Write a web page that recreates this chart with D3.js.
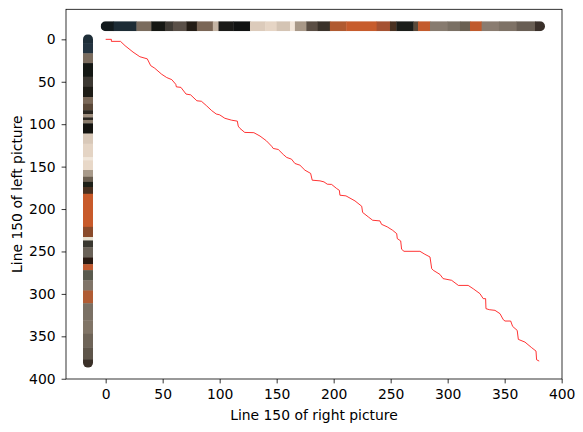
<!DOCTYPE html>
<html>
<head>
<meta charset="utf-8">
<script src="https://cdn.jsdelivr.net/npm/d3@7"></script>
<style>
  body { margin: 0; background: #fff; }
  svg { display: block; }
</style>
</head>
<body>
<div class="chart"></div>
<script>
// warping path (right picture x, left picture y)
const pathX = [0, 5, 5, 13, 17, 24, 30, 36.5, 39.5, 43, 49, 53.5, 58, 61.5, 62, 66, 70.5, 74.5, 80, 84, 88.5, 93, 97, 100, 104.5, 110.5,
  115.5, 116.3, 117.8, 122, 130, 135.4, 141, 145.6, 147, 151.4, 155.8, 158.8, 163, 166, 170.4, 174.8, 179.8, 181.2, 188, 191.5, 194.4, 198.2, 202.6, 205, 205.5,
  210.8, 218.7, 224.6, 225.4, 230.4, 234.2, 240.6, 242, 247, 251.7, 255.3, 255.8, 258.8, 259.6, 261.7, 275.7, 280, 284.5, 286, 287.4, 293.2, 296,
  303.5, 309.4, 318, 322.5, 328.3, 331.2, 333.3, 333.6, 336.5, 341.5, 345.9, 348.8, 350.3, 355.3, 357, 361, 362, 367.8, 373.7, 377.5, 378, 380.3];
const pathY = [0, 0, 2.4, 2.4, 7.5, 15, 20.5, 23, 31, 34, 41, 45, 47.5, 53, 56, 56.6, 64.5, 65.4, 72.4, 73, 78.3, 84, 88, 89, 93, 95.3,
  96.4, 102.3, 105, 109.7, 110, 114, 119.6, 126, 128.6, 129.8, 135.7, 139.2, 141.2, 146.3, 148.3, 154.2, 158, 166, 166.8, 168, 170.7, 171, 175.8, 178, 183.7,
  184.5, 190.4, 196.7, 204, 209.3, 213.2, 214, 218, 221, 225, 229, 234.8, 237.6, 247.4, 249.8, 249.8, 253.3, 256.5, 270.2, 272.2, 277, 282,
  284, 290, 290, 294, 299.7, 305.6, 305.6, 317.4, 318.6, 319.4, 323.3, 330.4, 332, 332, 338.3, 343, 353.6, 356.8, 363.4, 367.4, 377.6, 379.2];

// line 150 of the right picture (drawn along the top), band starts and colours
const rightPos = [0, 7, 27, 40, 52, 59, 71, 80, 94, 99, 112, 126.6, 140, 150, 161.7, 166, 176, 186, 196.7, 211, 237.7, 249.4, 255, 270, 274,
  284.5, 300, 310.8, 319.6, 329.8, 345, 360.5, 376.6];
const rightColors = ["#121a1c", "#1d2c35", "#7a6c5e", "#151713", "#3e3a34", "#5a5048", "#231c15", "#7a6656", "#c4b4a4", "#1a1a18", "#101212",
  "#dccbbb", "#e6d5c5", "#d4c4b4", "#f2e6da", "#a89888", "#5a4e44", "#3a322a", "#b05a30", "#c75c2c", "#a55232", "#4a3222", "#1c1e1a", "#5a4a3a",
  "#c35b2d", "#877b6f", "#7a7064", "#6a6052", "#c05a2c", "#8a7c70", "#7e7266", "#685e54", "#3a302a"];

// line 150 of the left picture (drawn down the left side)
const leftPos = [0, 4.4, 16.5, 28, 44, 56, 68, 76, 83.5, 88, 92, 95, 99, 111, 123, 139, 142.5, 154, 162, 168, 174, 182, 221, 233, 237, 245,
  257, 265, 272, 284, 296, 311, 331, 347, 363, 377];
const leftColors = ["#1e2e38", "#243440", "#7a6c5e", "#141814", "#3c3832", "#1e1c16", "#7a6858", "#5a4838", "#2a2620", "#a09080", "#2a2620",
  "#8a7c6c", "#141410", "#d8c8b8", "#e4d4c4", "#f0e6da", "#e8d8c8", "#a89a8a", "#6a5e50", "#1e2018", "#4a3020", "#c85a2a", "#8a4a2a", "#e8e0d0",
  "#3a3830", "#6a6258", "#2a1a12", "#c05a30", "#5a5a4e", "#807468", "#b05c34", "#7a7064", "#807466", "#6e6458", "#5e554a", "#3a3028"];

const stripEnd = 381;
const stripOffset = -15.5;
const xTicks = d3.range(0, 401, 50);
const yTicks = d3.range(0, 401, 50);

const width = 583, height = 432;
const margin = { left: 66, right: 562, top: 9.3, bottom: 379 };
const fontSize = "13.9px";

const svg = d3.select(".chart")
  .append("svg")
  .attr("width", width)
  .attr("height", height)
  .style("font-family", "'DejaVu Sans', sans-serif");

const x = d3.scaleLinear().domain([-34.8, 400.3]).range([margin.left, margin.right]);
const y = d3.scaleLinear().domain([-35.4, 400.3]).range([margin.top, margin.bottom]);

const cap = 5;

const defs = svg.append("defs");
defs.append("clipPath").attr("id", "clip-top")
  .append("rect")
  .attr("x", x(0) - cap)
  .attr("y", y(stripOffset) - cap)
  .attr("width", x(stripEnd) - x(0) + 2 * cap)
  .attr("height", 2 * cap)
  .attr("rx", cap);

defs.append("clipPath").attr("id", "clip-left")
  .append("rect")
  .attr("x", x(stripOffset) - cap)
  .attr("y", y(0) - cap)
  .attr("width", 2 * cap)
  .attr("height", y(stripEnd) - y(0) + 2 * cap)
  .attr("ry", cap);

// top strip
const topBands = rightPos.map((p, i) => ({
  start: i === 0 ? x(0) - cap : x(p),
  end: i === rightPos.length - 1 ? x(stripEnd) + cap : x(rightPos[i + 1]),
  color: rightColors[i]
}));

svg.append("g")
  .attr("clip-path", "url(#clip-top)")
  .selectAll("rect")
  .data(topBands)
  .join("rect")
  .attr("x", d => d.start)
  .attr("y", y(stripOffset) - cap)
  .attr("width", d => d.end - d.start + 0.4)
  .attr("height", 2 * cap)
  .attr("fill", d => d.color);

// left strip
const leftBands = leftPos.map((p, i) => ({
  start: i === 0 ? y(0) - cap : y(p),
  end: i === leftPos.length - 1 ? y(stripEnd) + cap : y(leftPos[i + 1]),
  color: leftColors[i]
}));

svg.append("g")
  .attr("clip-path", "url(#clip-left)")
  .selectAll("rect")
  .data(leftBands)
  .join("rect")
  .attr("x", x(stripOffset) - cap)
  .attr("y", d => d.start)
  .attr("width", 2 * cap)
  .attr("height", d => d.end - d.start + 0.4)
  .attr("fill", d => d.color);

// warping path
const line = d3.line()
  .x(d => x(d[0]))
  .y(d => y(d[1]));

svg.append("path")
  .datum(pathX.map((v, i) => [v, pathY[i]]))
  .attr("d", line)
  .attr("fill", "none")
  .attr("stroke", "#ff0000")
  .attr("stroke-width", 0.8);

// axes
const xAxis = svg.append("g")
  .attr("transform", `translate(0, ${margin.bottom})`)
  .call(d3.axisBottom(x).tickValues(xTicks).tickSize(4.4).tickPadding(6));

const yAxis = svg.append("g")
  .attr("transform", `translate(${margin.left}, 0)`)
  .call(d3.axisLeft(y).tickValues(yTicks).tickSize(4.4).tickPadding(6));

[xAxis, yAxis].forEach(g => {
  g.select(".domain").remove();
  g.selectAll("text")
    .style("font-family", "'DejaVu Sans', sans-serif")
    .style("font-size", fontSize)
    .attr("fill", "#000");
  g.selectAll("line").attr("stroke", "#000").attr("stroke-width", 0.8);
});

svg.append("rect")
  .attr("x", margin.left)
  .attr("y", margin.top)
  .attr("width", margin.right - margin.left)
  .attr("height", margin.bottom - margin.top)
  .attr("fill", "none")
  .attr("stroke", "#000")
  .attr("stroke-width", 0.8);

svg.append("text")
  .text("Line 150 of right picture")
  .attr("x", (margin.left + margin.right) / 2)
  .attr("y", 419.5)
  .attr("text-anchor", "middle")
  .style("font-size", fontSize);

svg.append("text")
  .text("Line 150 of left picture")
  .attr("transform", `translate(22, ${(margin.top + margin.bottom) / 2}) rotate(-90)`)
  .attr("text-anchor", "middle")
  .style("font-size", fontSize);
</script>
</body>
</html>
